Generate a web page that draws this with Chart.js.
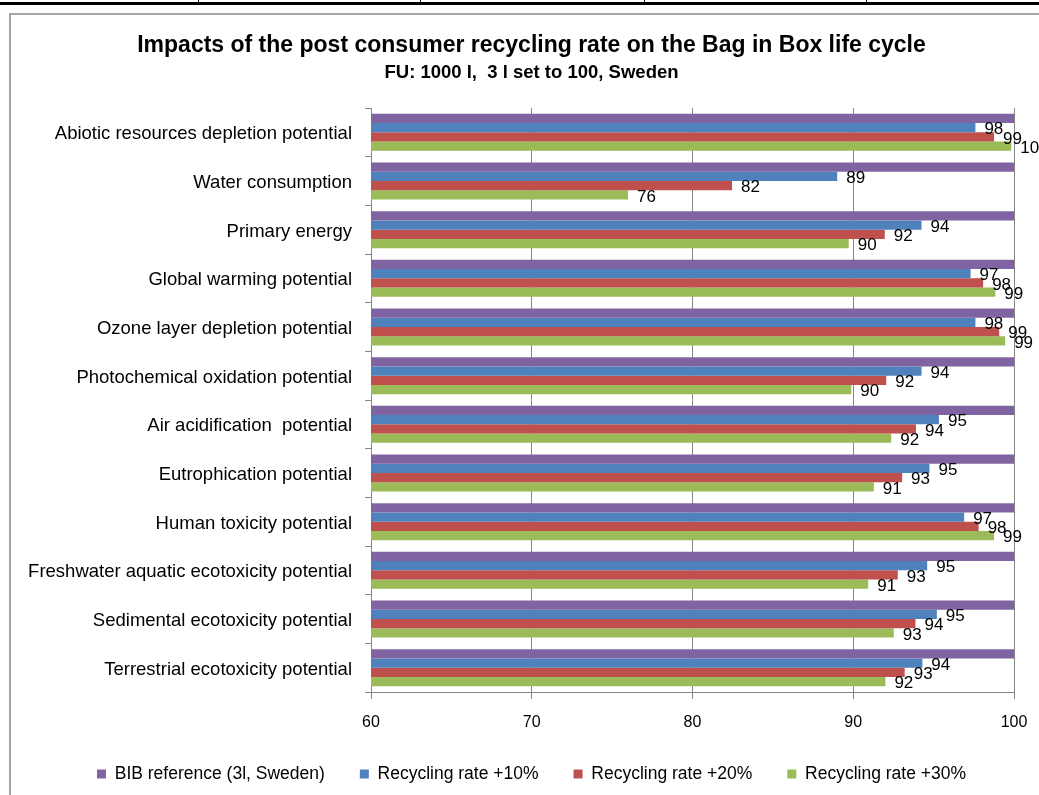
<!DOCTYPE html>
<html>
<head>
<meta charset="utf-8">
<script src="https://cdn.jsdelivr.net/npm/chart.js@4.4.1/dist/chart.umd.min.js"></script>
<style>
html,body{margin:0;padding:0;background:#fff;}
#wrap{width:1039px;height:795px;position:relative;overflow:hidden;}
</style>
</head>
<body>
<div id="wrap"><canvas id="c" width="1039" height="795"></canvas></div>
<script>
const categories = [
  "Abiotic resources depletion potential",
  "Water consumption",
  "Primary energy",
  "Global warming potential",
  "Ozone layer depletion potential",
  "Photochemical oxidation potential",
  "Air acidification  potential",
  "Eutrophication potential",
  "Human toxicity potential",
  "Freshwater aquatic ecotoxicity potential",
  "Sedimental ecotoxicity potential",
  "Terrestrial ecotoxicity potential"
];
const seriesNames = ["BIB reference (3l, Sweden)", "Recycling rate +10%", "Recycling rate +20%", "Recycling rate +30%"];
const bibReference = [100, 100, 100, 100, 100, 100, 100, 100, 100, 100, 100, 100];
const recycling10 = [97.6, 89.0, 94.25, 97.3, 97.6, 94.25, 95.33, 94.74, 96.9, 94.6, 95.2, 94.3];
const recycling20 = [98.76, 82.46, 91.96, 98.08, 99.08, 92.05, 93.9, 93.04, 97.8, 92.77, 93.87, 93.2];
const recycling30 = [99.83, 75.99, 89.72, 98.84, 99.45, 89.88, 92.36, 91.28, 98.76, 90.93, 92.52, 92.0];
const xTicks = [60, 70, 80, 90, 100];
const seriesColors = ["#8064A2", "#4F81BD", "#C0504D", "#9BBB59"];
const showValueLabels = [false, true, true, true];

const FONT = '"Liberation Sans", Arial, sans-serif';

const decorPlugin = {
  id: 'decor',
  beforeDraw(chart) {
    const ctx = chart.ctx;
    ctx.save();
    ctx.fillStyle = '#fff';
    ctx.fillRect(0, 0, chart.width, chart.height);
    ctx.fillStyle = '#000';
    ctx.fillRect(0, 2, chart.width, 3);
    [198, 420, 644, 866].forEach(x => ctx.fillRect(x, 0, 1, 3));
    ctx.strokeStyle = '#a6a6a6';
    ctx.lineWidth = 2;
    ctx.beginPath();
    ctx.moveTo(10, chart.height + 5);
    ctx.lineTo(10, 14);
    ctx.lineTo(chart.width + 5, 14);
    ctx.stroke();
    ctx.restore();
  }
};

const valueLabelPlugin = {
  id: 'valueLabels',
  afterDatasetsDraw(chart) {
    const ctx = chart.ctx;
    ctx.save();
    ctx.font = '17px ' + FONT;
    ctx.fillStyle = '#000';
    ctx.textBaseline = 'middle';
    ctx.textAlign = 'left';
    chart.data.datasets.forEach((ds, i) => {
      if (!showValueLabels[i]) return;
      const meta = chart.getDatasetMeta(i);
      meta.data.forEach((bar, j) => {
        ctx.fillText(String(Math.round(ds.data[j])), bar.x + 9, bar.y + 2);
      });
    });
    ctx.restore();
  }
};

const seriesData = [bibReference, recycling10, recycling20, recycling30];

new Chart(document.getElementById('c'), {
  type: 'bar',
  data: {
    labels: categories,
    datasets: seriesNames.map((name, i) => ({
      label: name,
      data: seriesData[i],
      backgroundColor: seriesColors[i],
      borderWidth: 0,
      barPercentage: 1.0,
      categoryPercentage: 0.76
    }))
  },
  options: {
    indexAxis: 'y',
    responsive: false,
    animation: false,
    devicePixelRatio: 1,
    layout: { padding: { left: 24, right: 0, top: 0, bottom: 2.25 } },
    scales: {
      x: {
        type: 'linear',
        min: 60,
        max: 100,
        afterBuildTicks(scale) { scale.ticks = xTicks.map(v => ({ value: v })); },
        afterFit(scale) { scale.height = 38.25; scale.paddingRight = 25; },
        ticks: { color: '#000', font: { size: 16, family: FONT }, padding: 14, maxRotation: 0 },
        grid: { color: '#868686', lineWidth: 1, tickLength: 7, drawTicks: true },
        border: { display: true, color: '#868686', width: 1 }
      },
      y: {
        type: 'category',
        afterFit(scale) { scale.width = 347; },
        ticks: { color: '#000', font: { size: 18.5, family: FONT }, padding: 13, autoSkip: false, labelOffset: 2 },
        grid: { drawOnChartArea: false, drawTicks: true, tickLength: 6, color: '#868686', offset: true },
        border: { display: true, color: '#868686', width: 1 }
      }
    },
    plugins: {
      title: {
        display: true,
        text: 'Impacts of the post consumer recycling rate on the Bag in Box life cycle',
        color: '#000',
        font: { size: 23, weight: 'bold', family: FONT },
        padding: { top: 32.2, bottom: 2.1 }
      },
      subtitle: {
        display: true,
        text: 'FU: 1000 l,  3 l set to 100, Sweden',
        color: '#000',
        font: { size: 18.5, weight: 'bold', family: FONT },
        padding: { top: 0, bottom: 23.9 }
      },
      legend: {
        position: 'bottom',
        labels: {
          boxWidth: 9,
          boxHeight: 9,
          padding: 35,
          color: '#000',
          font: { size: 17.5, family: FONT }
        }
      },
      tooltip: { enabled: false }
    }
  },
  plugins: [decorPlugin, valueLabelPlugin]
});
</script>
</body>
</html>
